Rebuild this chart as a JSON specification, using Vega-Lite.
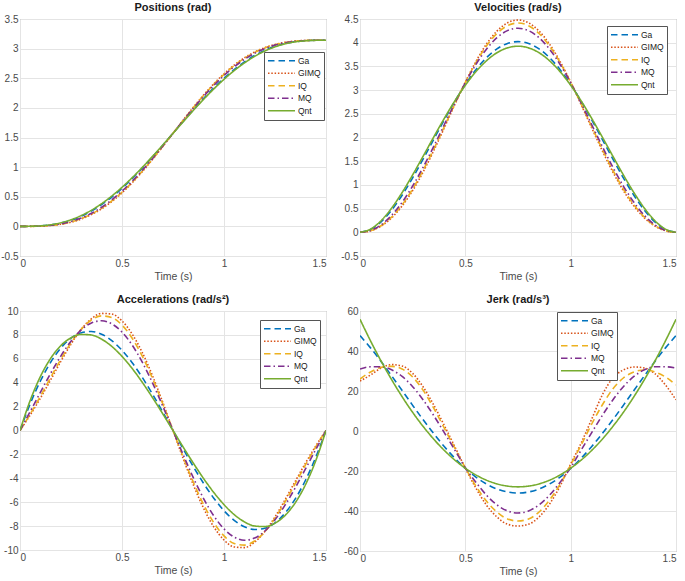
{
"$schema": "https://vega.github.io/schema/vega-lite/v6.json",
"datasets": {"d": [
{"m":"Ga","t":0,"p":0,"v":0,"a":0,"j":47.68},
{"m":"Ga","t":0.05,"p":0.001,"v":0.058,"a":2.23,"j":41.56},
{"m":"Ga","t":0.1,"p":0.0075,"v":0.218,"a":4.141,"j":34.8},
{"m":"Ga","t":0.15,"p":0.0243,"v":0.466,"a":5.703,"j":27.61},
{"m":"Ga","t":0.2,"p":0.0554,"v":0.782,"a":6.899,"j":20.22},
{"m":"Ga","t":0.25,"p":0.1033,"v":1.149,"a":7.725,"j":12.82},
{"m":"Ga","t":0.3,"p":0.1707,"v":1.549,"a":8.184,"j":5.58},
{"m":"Ga","t":0.35,"p":0.2584,"v":1.962,"a":8.289,"j":-1.32},
{"m":"Ga","t":0.4,"p":0.3668,"v":2.372,"a":8.059,"j":-7.76},
{"m":"Ga","t":0.45,"p":0.4953,"v":2.763,"a":7.523,"j":-13.59},
{"m":"Ga","t":0.5,"p":0.6425,"v":3.12,"a":6.712,"j":-18.72},
{"m":"Ga","t":0.55,"p":0.8064,"v":3.43,"a":5.664,"j":-23.04},
{"m":"Ga","t":0.6,"p":0.9845,"v":3.683,"a":4.423,"j":-26.48},
{"m":"Ga","t":0.65,"p":1.1736,"v":3.87,"a":3.032,"j":-28.98},
{"m":"Ga","t":0.7,"p":1.3703,"v":3.984,"a":1.542,"j":-30.49},
{"m":"Ga","t":0.75,"p":1.5708,"v":4.023,"a":0,"j":-31},
{"m":"Ga","t":0.8,"p":1.7713,"v":3.984,"a":-1.542,"j":-30.49},
{"m":"Ga","t":0.85,"p":1.968,"v":3.87,"a":-3.032,"j":-28.98},
{"m":"Ga","t":0.9,"p":2.1571,"v":3.683,"a":-4.423,"j":-26.48},
{"m":"Ga","t":0.95,"p":2.3352,"v":3.43,"a":-5.664,"j":-23.04},
{"m":"Ga","t":1,"p":2.4991,"v":3.12,"a":-6.712,"j":-18.72},
{"m":"Ga","t":1.05,"p":2.6463,"v":2.763,"a":-7.523,"j":-13.59},
{"m":"Ga","t":1.1,"p":2.7748,"v":2.372,"a":-8.059,"j":-7.76},
{"m":"Ga","t":1.15,"p":2.8832,"v":1.962,"a":-8.289,"j":-1.32},
{"m":"Ga","t":1.2,"p":2.9709,"v":1.549,"a":-8.184,"j":5.58},
{"m":"Ga","t":1.25,"p":3.0383,"v":1.149,"a":-7.725,"j":12.82},
{"m":"Ga","t":1.3,"p":3.0862,"v":0.782,"a":-6.899,"j":20.22},
{"m":"Ga","t":1.35,"p":3.1173,"v":0.466,"a":-5.703,"j":27.61},
{"m":"Ga","t":1.4,"p":3.1341,"v":0.218,"a":-4.141,"j":34.8},
{"m":"Ga","t":1.45,"p":3.1406,"v":0.058,"a":-2.23,"j":41.56},
{"m":"Ga","t":1.5,"p":3.1416,"v":0,"a":0,"j":47.68},
{"m":"GIMQ","t":0,"p":0,"v":0,"a":0,"j":25},
{"m":"GIMQ","t":0.05,"p":0.0002,"v":0.033,"a":1.296,"j":28},
{"m":"GIMQ","t":0.1,"p":0.0034,"v":0.132,"a":2.709,"j":31.5},
{"m":"GIMQ","t":0.15,"p":0.0138,"v":0.305,"a":4.23,"j":33.2},
{"m":"GIMQ","t":0.2,"p":0.0351,"v":0.556,"a":5.776,"j":32.5},
{"m":"GIMQ","t":0.25,"p":0.0707,"v":0.881,"a":7.229,"j":28.8},
{"m":"GIMQ","t":0.3,"p":0.1243,"v":1.275,"a":8.46,"j":22},
{"m":"GIMQ","t":0.35,"p":0.1991,"v":1.722,"a":9.349,"j":13},
{"m":"GIMQ","t":0.4,"p":0.2971,"v":2.202,"a":9.799,"j":2.8},
{"m":"GIMQ","t":0.45,"p":0.4195,"v":2.693,"a":9.746,"j":-7.8},
{"m":"GIMQ","t":0.5,"p":0.5661,"v":3.168,"a":9.165,"j":-18.6},
{"m":"GIMQ","t":0.55,"p":0.7356,"v":3.601,"a":8.068,"j":-28.5},
{"m":"GIMQ","t":0.6,"p":0.9251,"v":3.967,"a":6.506,"j":-37},
{"m":"GIMQ","t":0.65,"p":1.1308,"v":4.245,"a":4.563,"j":-43},
{"m":"GIMQ","t":0.7,"p":1.3479,"v":4.419,"a":2.351,"j":-46.6},
{"m":"GIMQ","t":0.75,"p":1.5708,"v":4.478,"a":0,"j":-47.5},
{"m":"GIMQ","t":0.8,"p":1.7937,"v":4.419,"a":-2.351,"j":-46.6},
{"m":"GIMQ","t":0.85,"p":2.0108,"v":4.245,"a":-4.563,"j":-43},
{"m":"GIMQ","t":0.9,"p":2.2165,"v":3.967,"a":-6.506,"j":-36.5},
{"m":"GIMQ","t":0.95,"p":2.406,"v":3.601,"a":-8.068,"j":-27.5},
{"m":"GIMQ","t":1,"p":2.5755,"v":3.168,"a":-9.165,"j":-16.5},
{"m":"GIMQ","t":1.05,"p":2.7221,"v":2.693,"a":-9.746,"j":-6},
{"m":"GIMQ","t":1.1,"p":2.8445,"v":2.202,"a":-9.799,"j":6},
{"m":"GIMQ","t":1.15,"p":2.9425,"v":1.722,"a":-9.349,"j":18},
{"m":"GIMQ","t":1.2,"p":3.0173,"v":1.275,"a":-8.46,"j":26.5},
{"m":"GIMQ","t":1.25,"p":3.0709,"v":0.881,"a":-7.229,"j":30.5},
{"m":"GIMQ","t":1.3,"p":3.1065,"v":0.556,"a":-5.776,"j":32},
{"m":"GIMQ","t":1.35,"p":3.1278,"v":0.305,"a":-4.23,"j":31.5},
{"m":"GIMQ","t":1.4,"p":3.1382,"v":0.132,"a":-2.709,"j":28.7},
{"m":"GIMQ","t":1.45,"p":3.1414,"v":0.033,"a":-1.296,"j":23},
{"m":"GIMQ","t":1.5,"p":3.1416,"v":0,"a":0,"j":15.6},
{"m":"IQ","t":0,"p":0,"v":0,"a":0,"j":26},
{"m":"IQ","t":0.05,"p":0.0005,"v":0.033,"a":1.365,"j":29.5},
{"m":"IQ","t":0.1,"p":0.0045,"v":0.138,"a":2.858,"j":31.8},
{"m":"IQ","t":0.15,"p":0.0156,"v":0.32,"a":4.419,"j":32.3},
{"m":"IQ","t":0.2,"p":0.0378,"v":0.58,"a":5.952,"j":31},
{"m":"IQ","t":0.25,"p":0.0753,"v":0.913,"a":7.341,"j":27},
{"m":"IQ","t":0.3,"p":0.1302,"v":1.31,"a":8.473,"j":20.3},
{"m":"IQ","t":0.35,"p":0.2066,"v":1.755,"a":9.249,"j":11.4},
{"m":"IQ","t":0.4,"p":0.3061,"v":2.227,"a":9.591,"j":1.5},
{"m":"IQ","t":0.45,"p":0.4294,"v":2.706,"a":9.453,"j":-8.6},
{"m":"IQ","t":0.5,"p":0.5763,"v":3.165,"a":8.823,"j":-18.4},
{"m":"IQ","t":0.55,"p":0.7452,"v":3.58,"a":7.721,"j":-27.5},
{"m":"IQ","t":0.6,"p":0.9332,"v":3.93,"a":6.198,"j":-35},
{"m":"IQ","t":0.65,"p":1.1367,"v":4.194,"a":4.334,"j":-40.5},
{"m":"IQ","t":0.7,"p":1.351,"v":4.359,"a":2.229,"j":-44},
{"m":"IQ","t":0.75,"p":1.5708,"v":4.415,"a":0,"j":-45},
{"m":"IQ","t":0.8,"p":1.7906,"v":4.359,"a":-2.229,"j":-44},
{"m":"IQ","t":0.85,"p":2.0049,"v":4.194,"a":-4.334,"j":-40.5},
{"m":"IQ","t":0.9,"p":2.2084,"v":3.93,"a":-6.198,"j":-34.5},
{"m":"IQ","t":0.95,"p":2.3964,"v":3.58,"a":-7.721,"j":-26.5},
{"m":"IQ","t":1,"p":2.5653,"v":3.165,"a":-8.823,"j":-17},
{"m":"IQ","t":1.05,"p":2.7122,"v":2.706,"a":-9.453,"j":-7},
{"m":"IQ","t":1.1,"p":2.8355,"v":2.227,"a":-9.591,"j":3.5},
{"m":"IQ","t":1.15,"p":2.935,"v":1.755,"a":-9.249,"j":13},
{"m":"IQ","t":1.2,"p":3.0114,"v":1.31,"a":-8.473,"j":21},
{"m":"IQ","t":1.25,"p":3.0663,"v":0.913,"a":-7.341,"j":26.5},
{"m":"IQ","t":1.3,"p":3.1038,"v":0.58,"a":-5.952,"j":29.5},
{"m":"IQ","t":1.35,"p":3.126,"v":0.32,"a":-4.419,"j":30.5},
{"m":"IQ","t":1.4,"p":3.1371,"v":0.138,"a":-2.858,"j":29.5},
{"m":"IQ","t":1.45,"p":3.1411,"v":0.033,"a":-1.365,"j":27},
{"m":"IQ","t":1.5,"p":3.1416,"v":0,"a":0,"j":23},
{"m":"MQ","t":0,"p":0,"v":0,"a":0,"j":30.99},
{"m":"MQ","t":0.05,"p":0.0011,"v":0.038,"a":1.585,"j":32.11},
{"m":"MQ","t":0.1,"p":0.0056,"v":0.157,"a":3.198,"j":32.16},
{"m":"MQ","t":0.15,"p":0.0184,"v":0.357,"a":4.775,"j":30.61},
{"m":"MQ","t":0.2,"p":0.0426,"v":0.633,"a":6.229,"j":27.26},
{"m":"MQ","t":0.25,"p":0.0825,"v":0.976,"a":7.471,"j":22.16},
{"m":"MQ","t":0.3,"p":0.1411,"v":1.375,"a":8.419,"j":15.53},
{"m":"MQ","t":0.35,"p":0.2207,"v":1.812,"a":9.005,"j":7.73},
{"m":"MQ","t":0.4,"p":0.3226,"v":2.269,"a":9.181,"j":-0.78},
{"m":"MQ","t":0.45,"p":0.4475,"v":2.723,"a":8.923,"j":-9.51},
{"m":"MQ","t":0.5,"p":0.5945,"v":3.154,"a":8.235,"j":-18.3},
{"m":"MQ","t":0.55,"p":0.7621,"v":3.54,"a":7.142,"j":-25.6},
{"m":"MQ","t":0.6,"p":0.9474,"v":3.862,"a":5.695,"j":-32.05},
{"m":"MQ","t":0.65,"p":1.147,"v":4.105,"a":3.963,"j":-36.93},
{"m":"MQ","t":0.7,"p":1.3563,"v":4.255,"a":2.033,"j":-39.97},
{"m":"MQ","t":0.75,"p":1.5708,"v":4.306,"a":0,"j":-41},
{"m":"MQ","t":0.8,"p":1.7853,"v":4.255,"a":-2.033,"j":-39.97},
{"m":"MQ","t":0.85,"p":1.9946,"v":4.105,"a":-3.963,"j":-36.93},
{"m":"MQ","t":0.9,"p":2.1942,"v":3.862,"a":-5.695,"j":-32.05},
{"m":"MQ","t":0.95,"p":2.3795,"v":3.54,"a":-7.142,"j":-25.6},
{"m":"MQ","t":1,"p":2.5471,"v":3.154,"a":-8.235,"j":-18.3},
{"m":"MQ","t":1.05,"p":2.6941,"v":2.723,"a":-8.923,"j":-9.51},
{"m":"MQ","t":1.1,"p":2.819,"v":2.269,"a":-9.181,"j":-0.78},
{"m":"MQ","t":1.15,"p":2.9209,"v":1.812,"a":-9.005,"j":7.73},
{"m":"MQ","t":1.2,"p":3.0005,"v":1.375,"a":-8.419,"j":15.53},
{"m":"MQ","t":1.25,"p":3.0591,"v":0.976,"a":-7.471,"j":22.16},
{"m":"MQ","t":1.3,"p":3.099,"v":0.633,"a":-6.229,"j":27.26},
{"m":"MQ","t":1.35,"p":3.1232,"v":0.357,"a":-4.775,"j":30.61},
{"m":"MQ","t":1.4,"p":3.136,"v":0.157,"a":-3.198,"j":32.16},
{"m":"MQ","t":1.45,"p":3.1405,"v":0.038,"a":-1.585,"j":32.11},
{"m":"MQ","t":1.5,"p":3.1416,"v":0,"a":0,"j":31.5},
{"m":"Qnt","t":0,"p":0,"v":0,"a":0,"j":55.85},
{"m":"Qnt","t":0.05,"p":0.0015,"v":0.066,"a":2.516,"j":45.06},
{"m":"Qnt","t":0.1,"p":0.0088,"v":0.243,"a":4.515,"j":35},
{"m":"Qnt","t":0.15,"p":0.0273,"v":0.509,"a":6.029,"j":25.7},
{"m":"Qnt","t":0.2,"p":0.0608,"v":0.839,"a":7.097,"j":17.13},
{"m":"Qnt","t":0.25,"p":0.1119,"v":1.212,"a":7.755,"j":9.31},
{"m":"Qnt","t":0.3,"p":0.1823,"v":1.608,"a":8.04,"j":2.24},
{"m":"Qnt","t":0.35,"p":0.2728,"v":2.01,"a":7.991,"j":-4.09},
{"m":"Qnt","t":0.4,"p":0.3832,"v":2.402,"a":7.644,"j":-9.68},
{"m":"Qnt","t":0.45,"p":0.5126,"v":2.77,"a":7.036,"j":-14.52},
{"m":"Qnt","t":0.5,"p":0.6596,"v":3.102,"a":6.204,"j":-18.61},
{"m":"Qnt","t":0.55,"p":0.822,"v":3.388,"a":5.187,"j":-21.96},
{"m":"Qnt","t":0.6,"p":0.9974,"v":3.618,"a":4.02,"j":-24.57},
{"m":"Qnt","t":0.65,"p":1.1829,"v":3.788,"a":2.742,"j":-26.43},
{"m":"Qnt","t":0.7,"p":1.3751,"v":3.891,"a":1.39,"j":-27.55},
{"m":"Qnt","t":0.75,"p":1.5708,"v":3.926,"a":0,"j":-27.92},
{"m":"Qnt","t":0.8,"p":1.7665,"v":3.891,"a":-1.39,"j":-27.55},
{"m":"Qnt","t":0.85,"p":1.9587,"v":3.788,"a":-2.742,"j":-26.43},
{"m":"Qnt","t":0.9,"p":2.1442,"v":3.618,"a":-4.02,"j":-24.57},
{"m":"Qnt","t":0.95,"p":2.3196,"v":3.388,"a":-5.187,"j":-21.96},
{"m":"Qnt","t":1,"p":2.482,"v":3.102,"a":-6.204,"j":-18.61},
{"m":"Qnt","t":1.05,"p":2.629,"v":2.77,"a":-7.036,"j":-14.52},
{"m":"Qnt","t":1.1,"p":2.7584,"v":2.402,"a":-7.644,"j":-9.68},
{"m":"Qnt","t":1.15,"p":2.8688,"v":2.01,"a":-7.991,"j":-4.09},
{"m":"Qnt","t":1.2,"p":2.9593,"v":1.608,"a":-8.04,"j":2.24},
{"m":"Qnt","t":1.25,"p":3.0297,"v":1.212,"a":-7.755,"j":9.31},
{"m":"Qnt","t":1.3,"p":3.0808,"v":0.839,"a":-7.097,"j":17.13},
{"m":"Qnt","t":1.35,"p":3.1143,"v":0.509,"a":-6.029,"j":25.7},
{"m":"Qnt","t":1.4,"p":3.1328,"v":0.243,"a":-4.515,"j":35},
{"m":"Qnt","t":1.45,"p":3.1401,"v":0.066,"a":-2.516,"j":45.06},
{"m":"Qnt","t":1.5,"p":3.1416,"v":0,"a":0,"j":55.85}
]},
"data": {"name": "d"},
"padding": {"left": 0, "top": 1, "right": 4, "bottom": 2},
"bounds": "flush",
"columns": 2,
"spacing": {"row": 55, "column": 34},
"resolve": {"legend": {"color": "independent", "strokeDash": "independent"}},
"config": {
  "font": "Liberation Sans",
  "view": {"stroke": "#8c8c8c", "strokeWidth": 1},
  "axis": {"domain": false, "ticks": false, "grid": true, "gridColor": "#e4e4e4", "labelFontSize": 10, "labelColor": "#4a4a4a", "labelPadding": 2, "titleFontSize": 10.5, "titleFontWeight": "normal", "titleColor": "#4a4a4a", "titlePadding": 3},
  "title": {"fontSize": 11, "fontWeight": "bold", "color": "#1a1a1a", "offset": 1},
  "legend": {"symbolType": "stroke", "symbolSize": 729, "symbolStrokeWidth": 1.6, "clipHeight": 11.5, "rowPadding": 0.5, "labelFontSize": 8.5, "labelColor": "#1a1a1a", "labelOffset": 2, "padding": 3, "strokeColor": "#555555", "fillColor": "white", "cornerRadius": 0}
},
"concat": [
{
  "width": 306, "height": 237,
  "title": "Positions (rad)",
  "mark": {"type": "line", "clip": true, "interpolate": "monotone"},
  "encoding": {
    "x": {"field": "t", "type": "quantitative", "scale": {"domain": [0, 1.5], "nice": false}, "axis": {"values": [0, 0.5, 1, 1.5], "title": "Time (s)", "labelExpr": "'' + datum.value"}},
    "y": {"field": "p", "type": "quantitative", "scale": {"domain": [-0.5, 3.5], "nice": false, "zero": false}, "axis": {"values": [-0.5, 0, 0.5, 1, 1.5, 2, 2.5, 3, 3.5], "title": null, "labelExpr": "'' + datum.value"}},
    "color": {"field": "m", "type": "nominal", "scale": {"domain": ["Ga", "GIMQ", "IQ", "MQ", "Qnt"], "range": ["#0072BD", "#D95319", "#EDB120", "#7E2F8E", "#77AC30"]}, "legend": {"title": null, "orient": "none", "legendX": 244, "legendY": 33}},
    "strokeDash": {"field": "m", "type": "nominal", "scale": {"domain": ["Ga", "GIMQ", "IQ", "MQ", "Qnt"], "range": [[6.5, 4], [1.5, 1.8], [6.5, 4], [6.5, 3, 1.5, 3], [1, 0]]}, "legend": {"title": null, "orient": "none", "legendX": 244, "legendY": 33}},
    "strokeWidth": {"field": "m", "type": "nominal", "scale": {"domain": ["Ga", "GIMQ", "IQ", "MQ", "Qnt"], "range": [1.6, 1.6, 1.6, 1.6, 1.1]}, "legend": null}
  }
},
{
  "width": 316, "height": 237,
  "title": "Velocities (rad/s)",
  "mark": {"type": "line", "clip": true, "interpolate": "monotone"},
  "encoding": {
    "x": {"field": "t", "type": "quantitative", "scale": {"domain": [0, 1.5], "nice": false}, "axis": {"values": [0, 0.5, 1, 1.5], "title": "Time (s)", "labelExpr": "'' + datum.value"}},
    "y": {"field": "v", "type": "quantitative", "scale": {"domain": [-0.5, 4.5], "nice": false, "zero": false}, "axis": {"values": [-0.5, 0, 0.5, 1, 1.5, 2, 2.5, 3, 3.5, 4, 4.5], "title": null, "labelExpr": "'' + datum.value"}},
    "color": {"field": "m", "type": "nominal", "scale": {"domain": ["Ga", "GIMQ", "IQ", "MQ", "Qnt"], "range": ["#0072BD", "#D95319", "#EDB120", "#7E2F8E", "#77AC30"]}, "legend": {"title": null, "orient": "none", "legendX": 247, "legendY": 7}},
    "strokeDash": {"field": "m", "type": "nominal", "scale": {"domain": ["Ga", "GIMQ", "IQ", "MQ", "Qnt"], "range": [[6.5, 4], [1.5, 1.8], [6.5, 4], [6.5, 3, 1.5, 3], [1, 0]]}, "legend": {"title": null, "orient": "none", "legendX": 247, "legendY": 7}},
    "strokeWidth": {"field": "m", "type": "nominal", "scale": {"domain": ["Ga", "GIMQ", "IQ", "MQ", "Qnt"], "range": [1.6, 1.6, 1.6, 1.6, 1.1]}, "legend": null}
  }
},
{
  "width": 306, "height": 239,
  "title": "Accelerations (rad/s²)",
  "mark": {"type": "line", "clip": true, "interpolate": "monotone"},
  "encoding": {
    "x": {"field": "t", "type": "quantitative", "scale": {"domain": [0, 1.5], "nice": false}, "axis": {"values": [0, 0.5, 1, 1.5], "title": "Time (s)", "labelExpr": "'' + datum.value"}},
    "y": {"field": "a", "type": "quantitative", "scale": {"domain": [-10, 10], "nice": false, "zero": false}, "axis": {"values": [-10, -8, -6, -4, -2, 0, 2, 4, 6, 8, 10], "title": null, "labelExpr": "'' + datum.value"}},
    "color": {"field": "m", "type": "nominal", "scale": {"domain": ["Ga", "GIMQ", "IQ", "MQ", "Qnt"], "range": ["#0072BD", "#D95319", "#EDB120", "#7E2F8E", "#77AC30"]}, "legend": {"title": null, "orient": "none", "legendX": 240, "legendY": 9}},
    "strokeDash": {"field": "m", "type": "nominal", "scale": {"domain": ["Ga", "GIMQ", "IQ", "MQ", "Qnt"], "range": [[6.5, 4], [1.5, 1.8], [6.5, 4], [6.5, 3, 1.5, 3], [1, 0]]}, "legend": {"title": null, "orient": "none", "legendX": 240, "legendY": 9}},
    "strokeWidth": {"field": "m", "type": "nominal", "scale": {"domain": ["Ga", "GIMQ", "IQ", "MQ", "Qnt"], "range": [1.6, 1.6, 1.6, 1.6, 1.1]}, "legend": null}
  }
},
{
  "width": 316, "height": 240,
  "title": "Jerk (rad/s³)",
  "mark": {"type": "line", "clip": true, "interpolate": "monotone"},
  "encoding": {
    "x": {"field": "t", "type": "quantitative", "scale": {"domain": [0, 1.5], "nice": false}, "axis": {"values": [0, 0.5, 1, 1.5], "title": "Time (s)", "labelExpr": "'' + datum.value"}},
    "y": {"field": "j", "type": "quantitative", "scale": {"domain": [-60, 60], "nice": false, "zero": false}, "axis": {"values": [-60, -40, -20, 0, 20, 40, 60], "title": null, "labelExpr": "'' + datum.value"}},
    "color": {"field": "m", "type": "nominal", "scale": {"domain": ["Ga", "GIMQ", "IQ", "MQ", "Qnt"], "range": ["#0072BD", "#D95319", "#EDB120", "#7E2F8E", "#77AC30"]}, "legend": {"title": null, "orient": "none", "legendX": 197, "legendY": 1}},
    "strokeDash": {"field": "m", "type": "nominal", "scale": {"domain": ["Ga", "GIMQ", "IQ", "MQ", "Qnt"], "range": [[6.5, 4], [1.5, 1.8], [6.5, 4], [6.5, 3, 1.5, 3], [1, 0]]}, "legend": {"title": null, "orient": "none", "legendX": 197, "legendY": 1}},
    "strokeWidth": {"field": "m", "type": "nominal", "scale": {"domain": ["Ga", "GIMQ", "IQ", "MQ", "Qnt"], "range": [1.6, 1.6, 1.6, 1.6, 1.1]}, "legend": null}
  }
}
]
}
